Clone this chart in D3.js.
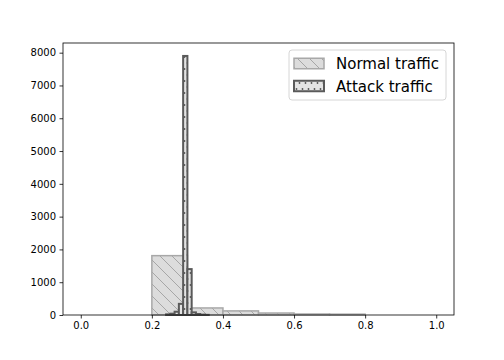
<!DOCTYPE html>
<html>
<head>
<meta charset="utf-8">
<script src="https://cdn.jsdelivr.net/npm/d3@7"></script>
<style>
  body { margin: 0; background: #fff; }
  svg { display: block; font-family: "DejaVu Sans", sans-serif; }
</style>
</head>
<body>
<svg id="chart" width="504" height="360"></svg>
<script>
// histogram bins
const normalEdges = [0.0, 0.1, 0.2, 0.3, 0.4, 0.5, 0.6, 0.7, 0.8, 0.9, 1.0];
const normalCounts = [0, 0, 1810, 215, 125, 60, 30, 25, 0, 0];

const attackEdges = [0.240, 0.252, 0.264, 0.276, 0.288, 0.300, 0.312, 0.324, 0.336, 0.348, 0.360];
const attackCounts = [20, 40, 100, 340, 7900, 1400, 80, 30, 10, 5];

const xTicks = [0.0, 0.2, 0.4, 0.6, 0.8, 1.0];
const yTicks = [0, 1000, 2000, 3000, 4000, 5000, 6000, 7000, 8000];
const legendLabels = ['Normal traffic', 'Attack traffic'];

const margin = { top: 43, right: 50, bottom: 45, left: 63 };
const width = 504, height = 360;
const svg = d3.select('#chart');

const x = d3.scaleLinear().domain([-0.05, 1.05]).range([margin.left, width - margin.right]);
const yMax = d3.max(attackCounts.concat(normalCounts)) * 1.05;
const y = d3.scaleLinear().domain([0, yMax]).range([height - margin.bottom, margin.top]);

// hatch patterns
const defs = svg.append('defs');
const diag = defs.append('pattern')
    .attr('id', 'hatch-normal')
    .attr('patternUnits', 'userSpaceOnUse')
    .attr('width', 12).attr('height', 12);
diag.append('rect').attr('width', 12).attr('height', 12).attr('fill', '#dcdcdc');
diag.append('path')
    .attr('d', 'M0,0 L12,12 M-6,6 L6,18 M6,-6 L18,6')
    .attr('stroke', '#a6a6a6').attr('stroke-width', 1);

const dots = defs.append('pattern')
    .attr('id', 'hatch-attack')
    .attr('patternUnits', 'userSpaceOnUse')
    .attr('width', 6).attr('height', 12);
dots.append('rect').attr('width', 6).attr('height', 12).attr('fill', '#e4e4e4');
dots.append('circle').attr('cx', 1.5).attr('cy', 3).attr('r', 0.9).attr('fill', '#555');
dots.append('circle').attr('cx', 4.5).attr('cy', 9).attr('r', 0.9).attr('fill', '#555');

function toBins(edges, counts) {
    return counts.map((c, i) => ({ x0: edges[i], x1: edges[i + 1], n: c }));
}

const plot = svg.append('g');

plot.selectAll('.bar-normal')
    .data(toBins(normalEdges, normalCounts))
    .enter()
    .append('rect')
    .attr('class', 'bar-normal')
    .attr('x', d => x(d.x0))
    .attr('y', d => y(d.n))
    .attr('width', d => x(d.x1) - x(d.x0))
    .attr('height', d => y(0) - y(d.n))
    .attr('fill', 'url(#hatch-normal)')
    .attr('stroke', '#a8a8a8')
    .attr('stroke-width', 1.5);

plot.selectAll('.bar-attack')
    .data(toBins(attackEdges, attackCounts))
    .enter()
    .append('rect')
    .attr('class', 'bar-attack')
    .attr('x', d => x(d.x0))
    .attr('y', d => y(d.n))
    .attr('width', d => x(d.x1) - x(d.x0))
    .attr('height', d => y(0) - y(d.n))
    .attr('fill', 'url(#hatch-attack)')
    .attr('stroke', '#5a5a5a')
    .attr('stroke-width', 2);

// axes
const xAxis = svg.append('g')
    .attr('transform', `translate(0, ${height - margin.bottom})`)
    .call(d3.axisBottom(x).tickValues(xTicks).tickFormat(d3.format('.1f')).tickSizeOuter(0).tickSize(3.5).tickPadding(3.5));
const yAxis = svg.append('g')
    .attr('transform', `translate(${margin.left}, 0)`)
    .call(d3.axisLeft(y).tickValues(yTicks).tickFormat(d3.format('d')).tickSizeOuter(0).tickSize(3.5).tickPadding(3.5));
[xAxis, yAxis].forEach(a => {
    a.selectAll('text').attr('font-size', 10).attr('fill', '#000').attr('font-family', 'DejaVu Sans');
    a.selectAll('line').attr('stroke', '#000').attr('stroke-width', 0.8);
    a.select('.domain').remove();
});

// frame
svg.append('rect')
    .attr('x', margin.left).attr('y', margin.top)
    .attr('width', width - margin.left - margin.right)
    .attr('height', height - margin.top - margin.bottom)
    .attr('fill', 'none').attr('stroke', '#000').attr('stroke-width', 0.8);

// legend
const lg = svg.append('g').attr('transform', 'translate(289, 50)');
lg.append('rect')
    .attr('width', 157).attr('height', 50).attr('rx', 3)
    .attr('fill', 'rgba(255,255,255,0.8)')
    .attr('stroke', '#d6d6d6').attr('stroke-width', 1);
const handles = [
    { fill: 'url(#hatch-normal)', stroke: '#a8a8a8', sw: 1.5 },
    { fill: 'url(#hatch-attack)', stroke: '#5a5a5a', sw: 2 }
];
legendLabels.forEach((label, i) => {
    const cy = 13.5 + i * 22.5;
    lg.append('rect')
        .attr('x', 5).attr('y', cy - 5.25)
        .attr('width', 30).attr('height', 10.5)
        .attr('fill', handles[i].fill)
        .attr('stroke', handles[i].stroke)
        .attr('stroke-width', handles[i].sw);
    lg.append('text')
        .attr('x', 47).attr('y', cy + 5.5)
        .attr('font-size', 15)
        .attr('fill', '#000')
        .text(label);
});
</script>
</body>
</html>
